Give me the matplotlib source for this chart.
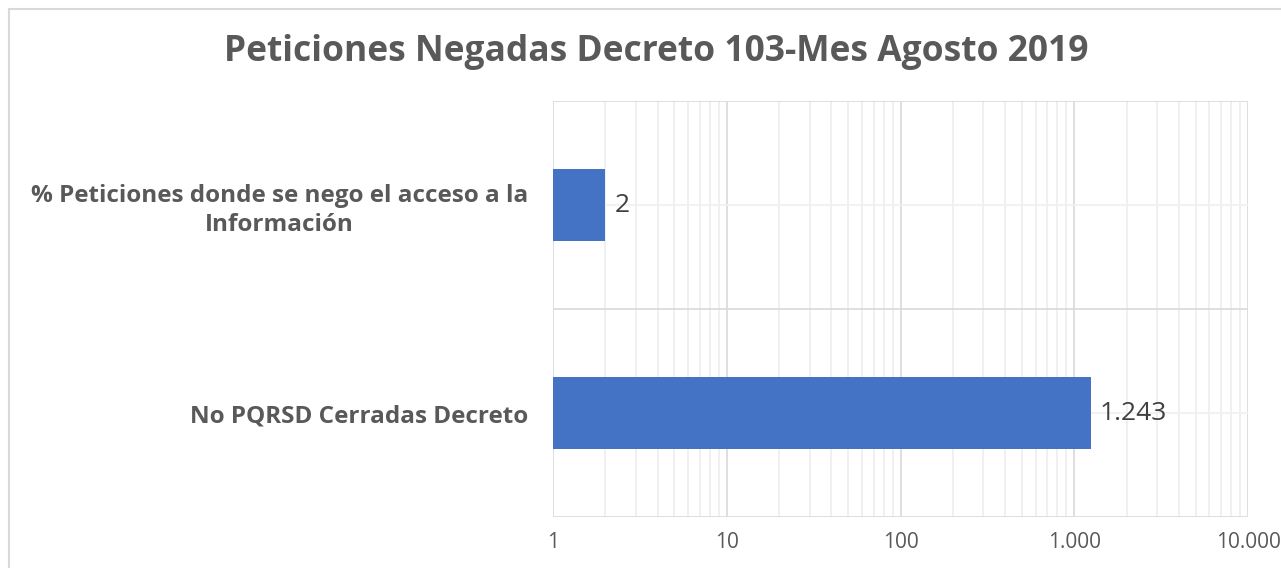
import numpy as np
import matplotlib
matplotlib.use('Agg')
import matplotlib.pyplot as plt
from matplotlib.patches import Rectangle
from matplotlib.ticker import FixedLocator, FuncFormatter, NullFormatter

plt.rcParams['font.family'] = ['Open Sans', 'DejaVu Sans']

categories = ['% Peticiones donde se nego el acceso a la\nInformación',
              'No PQRSD Cerradas Decreto']
values = [2, 1243]
title = 'Peticiones Negadas Decreto 103-Mes Agosto 2019'

bar_color = '#4472C4'
text_gray = '#595959'


def fmt_thousands(v):
    return f'{int(round(v)):,}'.replace(',', '.')


fig = plt.figure(figsize=(12.81, 5.68), dpi=100)

# chart border (only top and left edges visible in the crop)
fig.patches.append(Rectangle((9 / 1281, -0.1), 1.2, 1 - 9 / 568 + 0.1,
                             transform=fig.transFigure, fill=False,
                             edgecolor='#D9D9D9', linewidth=1.5))

ax = fig.add_axes([553 / 1281, 1 - 517 / 568, 695 / 1281, 416 / 568])

y = np.arange(len(categories))
ax.barh(y, np.array(values) - 1, left=1, height=0.35, color=bar_color, zorder=3)

ax.set_xscale('log')
ax.set_xlim(1, 10000)
ax.set_ylim(len(categories) - 0.5, -0.5)

ax.set_yticks(y)
ax.set_yticklabels(categories)
ax.yaxis.set_minor_locator(FixedLocator(np.arange(len(categories) + 1) - 0.5))
for lab in ax.get_yticklabels():
    lab.set_multialignment('center')
    lab.set_fontweight('bold')
    lab.set_fontsize(17.5)
    lab.set_color(text_gray)
    lab.set_linespacing(1.3)

ax.xaxis.set_major_locator(FixedLocator([1, 10, 100, 1000, 10000]))
ax.xaxis.set_major_formatter(FuncFormatter(lambda v, p: fmt_thousands(v)))
ax.xaxis.set_minor_formatter(NullFormatter())
ax.tick_params(axis='x', which='major', labelsize=15, labelcolor=text_gray, length=0, pad=11)
ax.tick_params(axis='y', which='major', length=0, pad=18)
ax.tick_params(which='minor', length=0)

ax.grid(axis='x', which='major', color='#D9D9D9', linewidth=1.2, zorder=0)
ax.grid(axis='x', which='minor', color='#EDEDED', linewidth=1.2, zorder=0)
ax.grid(axis='y', which='major', color='#F0F0F0', linewidth=1.2, zorder=0)
ax.grid(axis='y', which='minor', color='#D9D9D9', linewidth=1.2, zorder=0)
ax.set_axisbelow(True)
for s in ax.spines.values():
    s.set_visible(False)

for yi, v in zip(y, values):
    ax.text(v * 1.13, yi, fmt_thousands(v), va='center', ha='left',
            fontsize=19, color='#404040', zorder=4)

fig.text(656 / 1281, 1 - 52 / 568, title, ha='center', va='center',
         fontsize=25.5, fontweight='bold', color=text_gray)

fig.savefig('out.png', dpi=100)
